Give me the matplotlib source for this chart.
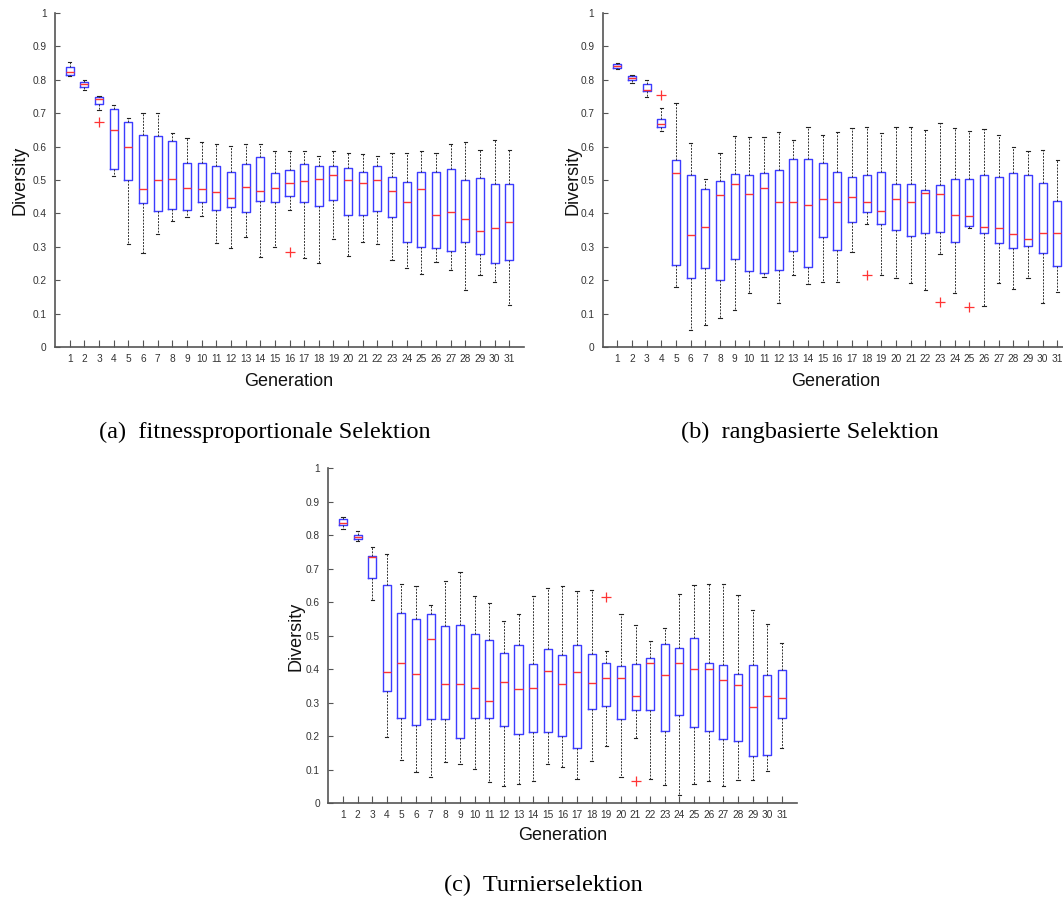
import matplotlib
matplotlib.use("Agg")
import matplotlib.pyplot as plt
from matplotlib.ticker import FixedLocator, FuncFormatter

W, H = 1063, 900

generations = list(range(1, 32))
y_ticks = [0, 0.1, 0.2, 0.3, 0.4, 0.5, 0.6, 0.7, 0.8, 0.9, 1.0]

# (a) fitness-proportional selection
a_whislo = [0.811, 0.769, 0.709, 0.511, 0.309, 0.282, 0.340, 0.377, 0.388, 0.393, 0.311,
            0.298, 0.330, 0.271, 0.300, 0.410, 0.268, 0.251, 0.323, 0.273, 0.316, 0.310,
            0.261, 0.236, 0.219, 0.254, 0.231, 0.171, 0.215, 0.196, 0.126]
a_q1 = [0.814, 0.777, 0.727, 0.533, 0.500, 0.431, 0.408, 0.412, 0.410, 0.435, 0.410,
        0.420, 0.404, 0.438, 0.433, 0.451, 0.433, 0.422, 0.440, 0.395, 0.395, 0.407,
        0.388, 0.316, 0.299, 0.296, 0.289, 0.315, 0.278, 0.253, 0.261]
a_med = [0.824, 0.786, 0.743, 0.650, 0.599, 0.473, 0.501, 0.504, 0.475, 0.473, 0.465,
         0.446, 0.479, 0.468, 0.476, 0.491, 0.498, 0.502, 0.514, 0.500, 0.491, 0.500,
         0.468, 0.434, 0.472, 0.395, 0.403, 0.384, 0.347, 0.358, 0.373]
a_q3 = [0.839, 0.794, 0.747, 0.713, 0.674, 0.634, 0.631, 0.618, 0.552, 0.552, 0.541,
        0.523, 0.547, 0.569, 0.522, 0.529, 0.548, 0.541, 0.541, 0.536, 0.524, 0.541,
        0.510, 0.494, 0.523, 0.523, 0.532, 0.501, 0.506, 0.489, 0.488]
a_whishi = [0.854, 0.800, 0.752, 0.723, 0.686, 0.701, 0.701, 0.639, 0.627, 0.615, 0.608,
            0.603, 0.607, 0.607, 0.587, 0.587, 0.587, 0.572, 0.587, 0.582, 0.578, 0.572,
            0.582, 0.582, 0.587, 0.582, 0.609, 0.615, 0.590, 0.620, 0.590]
a_fliers = {3: [0.672], 16: [0.284]}

# (b) rank-based selection
b_whislo = [0.832, 0.789, 0.747, 0.647, 0.179, 0.052, 0.066, 0.087, 0.110, 0.163, 0.211,
            0.131, 0.217, 0.188, 0.196, 0.196, 0.284, 0.369, 0.215, 0.208, 0.191, 0.171,
            0.279, 0.161, 0.358, 0.124, 0.191, 0.173, 0.207, 0.131, 0.164]
b_q1 = [0.835, 0.799, 0.766, 0.658, 0.247, 0.207, 0.237, 0.202, 0.263, 0.228, 0.223,
        0.230, 0.288, 0.241, 0.330, 0.291, 0.373, 0.403, 0.369, 0.350, 0.334, 0.341,
        0.345, 0.315, 0.364, 0.341, 0.312, 0.296, 0.303, 0.281, 0.242]
b_med = [0.841, 0.804, 0.769, 0.666, 0.521, 0.336, 0.359, 0.456, 0.487, 0.458, 0.475,
         0.433, 0.435, 0.424, 0.444, 0.434, 0.448, 0.434, 0.406, 0.444, 0.434, 0.460,
         0.457, 0.395, 0.392, 0.361, 0.356, 0.340, 0.323, 0.342, 0.342]
b_q3 = [0.846, 0.810, 0.786, 0.683, 0.561, 0.516, 0.473, 0.496, 0.519, 0.516, 0.521,
        0.529, 0.563, 0.563, 0.552, 0.525, 0.510, 0.514, 0.525, 0.487, 0.487, 0.471,
        0.484, 0.503, 0.502, 0.514, 0.510, 0.521, 0.514, 0.492, 0.437]
b_whishi = [0.849, 0.814, 0.799, 0.714, 0.731, 0.611, 0.504, 0.580, 0.632, 0.630, 0.628,
            0.643, 0.620, 0.658, 0.635, 0.642, 0.654, 0.658, 0.639, 0.658, 0.657, 0.648,
            0.669, 0.655, 0.646, 0.652, 0.634, 0.599, 0.587, 0.590, 0.559]
b_fliers = {4: [0.753], 18: [0.216], 23: [0.134], 25: [0.121]}

# (c) tournament selection
c_whislo = [0.819, 0.783, 0.608, 0.197, 0.129, 0.094, 0.080, 0.123, 0.116, 0.103, 0.064,
            0.053, 0.058, 0.066, 0.116, 0.108, 0.072, 0.125, 0.170, 0.080, 0.194, 0.072,
            0.054, 0.026, 0.058, 0.068, 0.053, 0.071, 0.069, 0.095, 0.164]
c_q1 = [0.832, 0.790, 0.672, 0.336, 0.255, 0.233, 0.251, 0.251, 0.194, 0.256, 0.254,
        0.230, 0.206, 0.213, 0.213, 0.202, 0.165, 0.282, 0.290, 0.252, 0.278, 0.278,
        0.216, 0.264, 0.228, 0.217, 0.191, 0.186, 0.140, 0.144, 0.255]
c_med = [0.838, 0.795, 0.735, 0.393, 0.420, 0.385, 0.489, 0.355, 0.355, 0.344, 0.304,
         0.363, 0.340, 0.344, 0.394, 0.355, 0.393, 0.358, 0.374, 0.375, 0.319, 0.418,
         0.384, 0.420, 0.401, 0.401, 0.367, 0.352, 0.287, 0.321, 0.314]
c_q3 = [0.848, 0.800, 0.739, 0.653, 0.569, 0.549, 0.566, 0.528, 0.531, 0.504, 0.486,
        0.450, 0.473, 0.415, 0.462, 0.442, 0.473, 0.446, 0.419, 0.409, 0.415, 0.435,
        0.475, 0.465, 0.492, 0.419, 0.412, 0.385, 0.412, 0.383, 0.397]
c_whishi = [0.856, 0.814, 0.765, 0.744, 0.656, 0.649, 0.592, 0.664, 0.690, 0.618, 0.599,
            0.545, 0.565, 0.618, 0.642, 0.648, 0.633, 0.638, 0.456, 0.566, 0.531, 0.485,
            0.523, 0.624, 0.653, 0.656, 0.655, 0.623, 0.576, 0.534, 0.478]
c_fliers = {19: [0.616], 21: [0.066]}

captions = ["(a)  fitnessproportionale Selektion",
            "(b)  rangbasierte Selektion",
            "(c)  Turnierselektion"]

BLUE = "#3c3cff"
RED = "#ff3434"
AXIS = "#555555"
SANS = ["Liberation Sans", "DejaVu Sans"]
SERIF = ["Liberation Serif", "DejaVu Serif"]


def px_rect(left, top, right, bottom):
    return [left / W, 1 - bottom / H, (right - left) / W, (bottom - top) / H]


def make_stats(whislo, q1, med, q3, whishi, fliers):
    stats = []
    for i, g in enumerate(generations):
        stats.append(dict(whislo=whislo[i], q1=q1[i], med=med[i], q3=q3[i],
                          whishi=whishi[i], fliers=fliers.get(g, []), label=str(g)))
    return stats


def draw_panel(ax, stats):
    ax.bxp(stats, positions=generations, widths=0.55, capwidths=0.22,
           showfliers=True, patch_artist=False,
           boxprops=dict(color=BLUE, linewidth=1.0),
           medianprops=dict(color=RED, linewidth=1.0),
           whiskerprops=dict(color="#333333", linewidth=0.7, linestyle=(0, (2.0, 1.3))),
           capprops=dict(color="#222222", linewidth=0.8),
           flierprops=dict(marker="+", markeredgecolor=RED, markerfacecolor="none",
                           markersize=7, markeredgewidth=0.9, linestyle="none"))
    ax.set_xlim(0, 32)
    ax.set_ylim(0, 1)
    for side in ("top", "right"):
        ax.spines[side].set_visible(False)
    for side in ("left", "bottom"):
        ax.spines[side].set_color(AXIS)
        ax.spines[side].set_linewidth(1.2)
    ax.xaxis.set_major_locator(FixedLocator(generations))
    ax.set_xticklabels([str(g) for g in generations], fontfamily=SANS)
    ax.yaxis.set_major_locator(FixedLocator(y_ticks))
    ax.yaxis.set_major_formatter(FuncFormatter(lambda v, _: f"{v:g}"))
    for lab in ax.get_yticklabels():
        lab.set_fontfamily(SANS)
    ax.tick_params(axis="x", direction="in", length=5, width=0.8, color=AXIS,
                   labelcolor="#333333", labelsize=7.3, pad=5)
    ax.tick_params(axis="y", direction="in", length=3.5, width=0.8, color=AXIS,
                   labelcolor="#333333", labelsize=7.3, pad=6)


fig = plt.figure(figsize=(W / 100, H / 100), dpi=100)
fig.patch.set_facecolor("white")

panels = [
    (px_rect(55, 12.7, 524, 347.3), make_stats(a_whislo, a_q1, a_med, a_q3, a_whishi, a_fliers),
     (20, 180), (289, 381), (265, 432)),
    (px_rect(602.7, 12.7, 1072, 347.3), make_stats(b_whislo, b_q1, b_med, b_q3, b_whishi, b_fliers),
     (573, 180), (836, 381), (810, 432)),
    (px_rect(328.3, 468.3, 796.5, 803.3), make_stats(c_whislo, c_q1, c_med, c_q3, c_whishi, c_fliers),
     (296, 636), (563, 836), (543, 885)),
]

for (rect, stats, ylab, xlab, cap), caption in zip(panels, captions):
    ax = fig.add_axes(rect)
    draw_panel(ax, stats)
    fig.text(ylab[0] / W, 1 - ylab[1] / H, "Diversity", rotation=90, ha="center",
             va="center", fontsize=13, family=SANS, color="#111111")
    fig.text(xlab[0] / W, 1 - xlab[1] / H, "Generation", ha="center", va="center",
             fontsize=13, family=SANS, color="#111111")
    fig.text(cap[0] / W, 1 - cap[1] / H, caption, ha="center", va="center",
             fontsize=17.5, family=SERIF, color="black")

fig.savefig("out.png", dpi=100, facecolor="white")
